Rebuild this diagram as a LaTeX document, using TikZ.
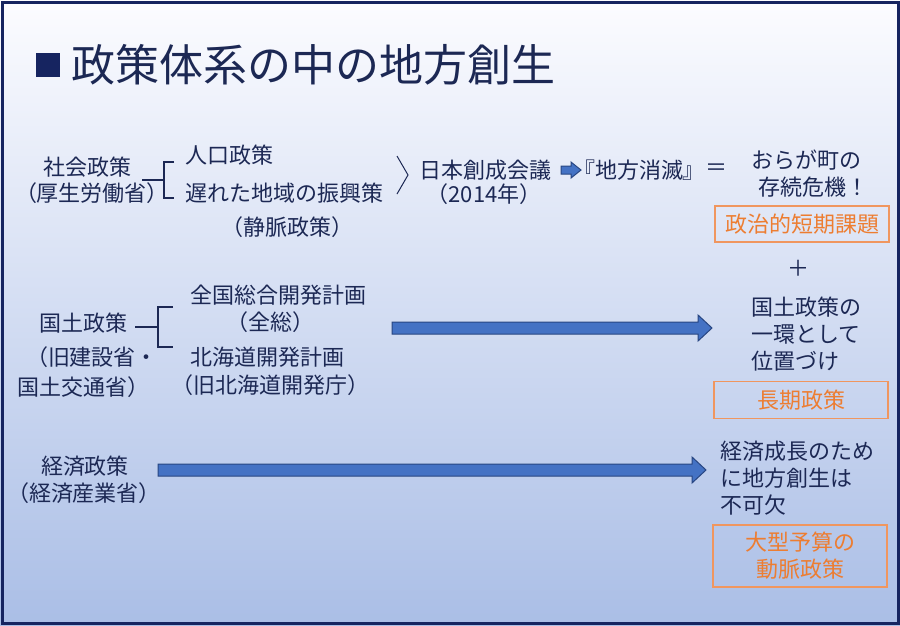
\documentclass[tikz,border=0pt]{standalone}
\usepackage{fontspec}
\setmainfont{Noto Sans CJK JP}
\newfontfamily\paltfont[RawFeature=+palt]{Noto Sans CJK JP}
\usetikzlibrary{calc, positioning}

\definecolor{navytext}{RGB}{28,40,84}
\definecolor{framenavy}{RGB}{22,36,96}
\definecolor{boxorange}{RGB}{240,150,95}
\definecolor{textorange}{RGB}{237,125,49}
\definecolor{arrowblue}{RGB}{68,114,196}
\definecolor{arrowedge}{RGB}{40,70,130}

% horizontal block arrow: from, to, shaft half height, head half height, head length
\newcommand{\blockarrow}[5]{%
  \draw[blockarrow] ($(#1)+(0,-#3)$) -- ($(#2)+(-#5,-#3)$) -- ($(#2)+(-#5,-#4)$)
    -- (#2) -- ($(#2)+(-#5,#4)$) -- ($(#2)+(-#5,#3)$) -- ($(#1)+(0,#3)$) -- cycle;}

\begin{document}
\begin{tikzpicture}[
    x=1pt, y=-1pt,
    txt/.style={text=navytext, font=\fontsize{22}{27}\selectfont, inner sep=0pt, align=center},
    titletext/.style={text=navytext, font=\fontsize{44}{50}\selectfont, inner sep=0pt, anchor=west},
    bracket/.style={draw=navytext, line width=1.3pt},
    termbox/.style={draw=boxorange, line width=1.1pt, text=textorange, align=center,
        font=\fontsize{22}{27}\selectfont, inner sep=0pt, minimum width=174pt},
    blockarrow/.style={fill=arrowblue, draw=arrowedge, line width=1pt, line join=miter}
]

    % === Background and frame ===
    \useasboundingbox (0,0) rectangle (900,625);
    \shade[top color=white!94!blue!20, middle color={rgb,255:red,204;green,217;blue,240},
        bottom color={rgb,255:red,170;green,190;blue,230}] (0,0) rectangle (900,625);
    \draw[framenavy, line width=3pt] (2,2) rectangle (898,623);

    % === Title ===
    \fill[framenavy] (36,53) rectangle (60,77);
    \node[titletext] (title) at (71,65) {政策体系の中の地方創生};

    % === Row 1: social policy ===
    \node[txt] (shakai) at (87,167) {社会政策};
    \node[txt] (kousei) at (92,193) {（厚生労働省）};
    \node[txt, anchor=west] (jinko) at (185,155) {人口政策};
    \node[txt, anchor=west] (okure) at (185,193) {遅れた地域の振興策};
    \node[txt] (jomyaku) at (287,227) {（静脈政策）};

    \coordinate (dashA) at (142,180);
    \coordinate (brkA) at (164,180);
    \draw[bracket] (dashA) -- (brkA);
    \draw[bracket] (174,162) -- (164,162) -- (164,198) -- (174,198);

    % chevron
    \coordinate (chevTip) at (408,175);
    \draw[navytext, line width=1pt] (397,156) -- (chevTip) -- (397,194);

    \node[txt] (nihon) at (485,170) {日本創成会議};
    \node[txt] (nen) at (484,194) {（2014年）};

    \coordinate (smallA) at (561,170);
    \coordinate (smallB) at (581,170);
    \blockarrow{smallA}{smallB}{4}{8}{10}

    \node[txt, anchor=west] (shometsu) at (584,170) {\paltfont 『地方消滅』};
    \node[txt] (equal) at (716,170) {＝};
    \node[txt] (orara) at (806,174) {おらが町の\\\hspace*{14pt}存続危機！};
    \node[termbox, minimum height=36pt] (tanki) at (802,224) {政治的短期課題};
    \node[txt] (plus) at (798,268) {＋};

    % === Row 2: national land policy ===
    \node[txt] (kokudo) at (83,323) {国土政策};
    \node[txt] (kensetsu) at (92,357) {（旧建設省・};
    \node[txt] (koutsu) at (83,387) {国土交通省）};
    \node[txt] (zenkoku) at (278,295) {全国総合開発計画};
    \node[txt] (zenso) at (270,322) {（全総）};
    \node[txt] (hokkaido) at (267,357) {北海道開発計画};
    \node[txt] (kaihatsu) at (270,385) {（旧北海道開発庁）};

    \coordinate (dashB) at (135,327);
    \coordinate (brkB) at (158,327);
    \draw[bracket] (dashB) -- (brkB);
    \draw[bracket] (173,307) -- (158,307) -- (158,347) -- (173,347);

    \coordinate (longA) at (392,328);
    \coordinate (longB) at (712,328);
    \blockarrow{longA}{longB}{6}{13}{14}

    \node[txt, anchor=west, align=left] (ikkan) at (751,334) {国土政策の\\一環として\\位置づけ};
    \node[termbox, minimum height=37pt] (choki) at (801,400) {長期政策};

    % === Row 3: economic policy ===
    \node[txt] (keizai) at (85,466) {経済政策};
    \node[txt] (sangyo) at (84,493) {（経済産業省）};

    \coordinate (ecoA) at (158,470);
    \coordinate (ecoB) at (706,470);
    \blockarrow{ecoA}{ecoB}{6}{13}{14}

    \node[txt, anchor=west, align=left] (seicho) at (720,478) {経済成長のため\\に地方創生は\\不可欠};
    \node[termbox, minimum height=62pt] (domyaku) at (800,556) {大型予算の\\動脈政策};

\end{tikzpicture}
\end{document}
